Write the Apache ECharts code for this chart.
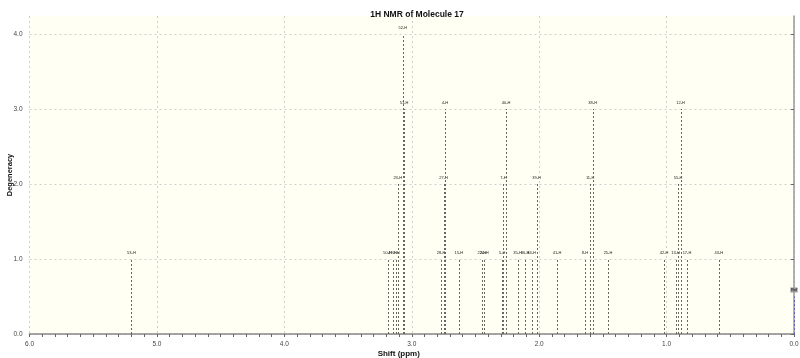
<!DOCTYPE html>
<html>
<head>
<meta charset="utf-8">
<script src="https://cdn.jsdelivr.net/npm/echarts@6/dist/echarts.min.js"></script>
<style>html,body{margin:0;padding:0;background:#fff;}#c{width:800px;height:358px;}</style>
</head>
<body>
<div id="c"></div>
<script>
// Peak data (chemical shift in ppm, degeneracy, label)
const peakShift = [5.20, 3.19, 3.15, 3.12, 3.11, 3.07, 3.06, 2.77, 2.75, 2.74, 2.63, 2.45, 2.43, 2.29, 2.28, 2.26, 2.17, 2.11, 2.06, 2.02, 1.86, 1.64, 1.60, 1.58, 1.46, 1.02, 0.93, 0.91, 0.89, 0.84, 0.59];
const peakDeg   = [1, 1, 1, 1, 2, 4, 3, 1, 2, 3, 1, 1, 1, 1, 2, 3, 1, 1, 1, 2, 1, 1, 2, 3, 1, 1, 1, 2, 3, 1, 1];
const peakLabel = ['53-H', '50-H', '49-H', '9-H', '23-H', '52-H', '51-H', '28-H', '27-H', '4-H', '15-H', '22-H', '20-H', '5-H', '7-H', '40-H', '35-H', '36-H', '34-H', '39-H', '41-H', '8-H', '11-H', '38-H', '25-H', '42-H', '13-H', '55-H', '12-H', '17-H', '43-H'];
// Reference peak
const refShift = [0.0];
const refDeg = [0.5];
const refLabel = ['Ref'];
// Axis ticks
const xTicks = [0, 1, 2, 3, 4, 5, 6];
const yTicks = [0, 1, 2, 3, 4];

const chart = echarts.init(document.getElementById('c'), null, {renderer: 'canvas'});

function stemRenderer(labels, stemColor, labelBg, labelColor) {
  return function (params, api) {
    const x = api.value(0), d = api.value(1);
    const p0 = api.coord([x, 0]);
    const p1 = api.coord([x, d]);
    const px = Math.round(p0[0]) + 0.5;
    const children = [{
      type: 'line',
      shape: {x1: px, y1: p0[1], x2: px, y2: p1[1]},
      style: {stroke: stemColor, lineWidth: 1, lineDash: [2, 2]}
    }, {
      type: 'text',
      x: p1[0], y: p1[1] - 6.5,
      style: {
        text: labels[params.dataIndex], fontSize: 4, fontFamily: 'Liberation Sans, Arial, sans-serif',
        fill: labelColor, align: 'center', verticalAlign: 'middle',
        backgroundColor: labelBg, padding: labelBg ? [0.5, 0.5] : 0
      }
    }];
    return {type: 'group', children: children};
  };
}

const option = {
  backgroundColor: '#ffffff',
  animation: false,
  title: {
    text: '1H NMR of Molecule 17',
    left: 412, textAlign: 'center', top: 5,
    textStyle: {fontSize: 8.5, fontWeight: 'bold', color: '#111', fontFamily: 'Liberation Sans, Arial, sans-serif'}
  },
  grid: {
    left: 29.5, right: 6, top: 16, bottom: 24,
    containLabel: false, outerBoundsMode: 'none',
    show: true, backgroundColor: '#fffff3', borderWidth: 0
  },
  xAxis: {
    type: 'value', inverse: true, min: 0, max: 6, interval: 1,
    offset: 3,
    name: 'Shift (ppm)', nameLocation: 'middle', nameGap: 13, nameMoveOverlap: false,
    nameTextStyle: {fontSize: 8, fontWeight: 'bold', color: '#111', fontFamily: 'Liberation Sans, Arial, sans-serif', padding: [0, 26, 0, 0]},
    axisLine: {show: true, lineStyle: {color: '#888', width: 1.5}},
    axisTick: {show: true, length: 3, lineStyle: {color: '#666'}},
    minorTick: {show: true, splitNumber: 10, length: 3, lineStyle: {color: '#666'}},
    axisLabel: {
      fontSize: 6.5, color: '#444', margin: 4, fontFamily: 'Liberation Sans, Arial, sans-serif',
      customValues: xTicks,
      formatter: v => v.toFixed(1)
    },
    splitLine: {show: true, lineStyle: {color: '#cfcfcf', width: 1, type: [2, 3]}}
  },
  yAxis: {
    type: 'value', min: 0, max: 4.24,
    offset: 3,
    name: 'Degeneracy', nameLocation: 'middle', nameGap: 13, nameMoveOverlap: false,
    nameTextStyle: {fontSize: 7.5, fontWeight: 'bold', color: '#111', fontFamily: 'Liberation Sans, Arial, sans-serif'},
    axisLine: {show: true, lineStyle: {color: '#999', width: 1.5}},
    axisTick: {show: true, length: 3, customValues: yTicks, lineStyle: {color: '#666'}},
    axisLabel: {
      fontSize: 6.5, color: '#444', margin: 4, fontFamily: 'Liberation Sans, Arial, sans-serif',
      customValues: yTicks,
      formatter: v => v.toFixed(1)
    },
    splitLine: {show: true, lineStyle: {color: '#cfcfcf', width: 1, type: [2, 3]}}
  },
  series: [{
    type: 'custom',
    coordinateSystem: 'cartesian2d',
    renderItem: stemRenderer(peakLabel, '#666', null, '#222'),
    data: peakShift.map((s, i) => [s, peakDeg[i]]),
    encode: {x: 0, y: 1},
    clip: false
  }, {
    type: 'custom',
    coordinateSystem: 'cartesian2d',
    renderItem: stemRenderer(refLabel, '#5b5bff', '#9a9a9a', '#111'),
    data: refShift.map((s, i) => [s, refDeg[i]]),
    encode: {x: 0, y: 1},
    clip: false
  }]
};
chart.setOption(option);
</script>
</body>
</html>
